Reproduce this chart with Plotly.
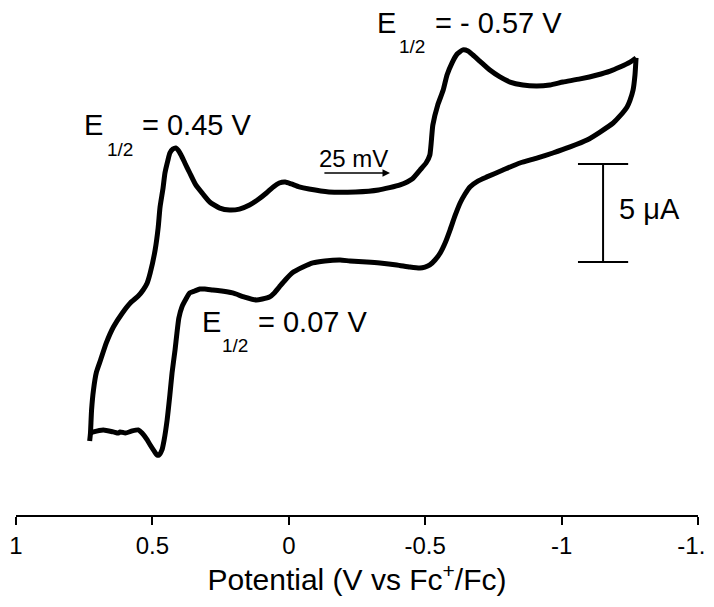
import plotly.graph_objects as go

# ---- data (potential in V vs Fc+/Fc, current in uA, arbitrary offset) ----
forward_potential = [0.730, 0.727, 0.723, 0.716, 0.705, 0.690, 0.669, 0.643, 0.610, 0.581,
                     0.552, 0.534, 0.519, 0.508, 0.490, 0.479, 0.472, 0.461, 0.454, 0.443,
                     0.436, 0.425, 0.414, 0.406, 0.395, 0.381, 0.363, 0.341, 0.315, 0.290,
                     0.253, 0.217, 0.181, 0.144, 0.115, 0.082, 0.057, 0.035, 0.013, -0.009,
                     -0.038, -0.074, -0.147, -0.245, -0.329, -0.408, -0.452, -0.481, -0.503, -0.517,
                     -0.528, -0.546, -0.566, -0.580, -0.598, -0.617, -0.638, -0.657, -0.675, -0.700,
                     -0.737, -0.774, -0.811, -0.858, -0.909, -0.957, -1.005, -1.068, -1.130, -1.178,
                     -1.214, -1.251, -1.273]
forward_current = [-7.19, -6.79, -5.61, -4.59, -3.67, -3.06, -2.19, -1.38, -0.66, -0.15,
                   0.20, 0.51, 0.87, 1.38, 2.55, 3.67, 4.74, 5.71, 6.48, 7.14,
                   7.50, 7.70, 7.76, 7.65, 7.40, 6.99, 6.48, 5.87, 5.41, 5.00,
                   4.69, 4.59, 4.64, 4.85, 5.10, 5.46, 5.77, 5.97, 6.02, 5.92,
                   5.77, 5.66, 5.51, 5.51, 5.61, 5.87, 6.17, 6.63, 6.99, 7.40,
                   8.93, 9.95, 10.71, 11.48, 12.09, 12.55, 12.76, 12.70, 12.50, 12.19,
                   11.73, 11.38, 11.12, 10.97, 10.92, 10.97, 11.12, 11.28, 11.48, 11.68,
                   11.89, 12.14, 12.35]

reverse_potential = [-1.273, -1.269, -1.262, -1.251, -1.240, -1.214, -1.189, -1.141, -1.093, -1.031,
                     -0.968, -0.909, -0.847, -0.785, -0.726, -0.693, -0.664, -0.646, -0.628, -0.609,
                     -0.591, -0.573, -0.555, -0.536, -0.517, -0.499, -0.481, -0.444, -0.396, -0.334,
                     -0.286, -0.224, -0.188, -0.132, -0.088, -0.052, -0.012, 0.013, 0.035, 0.053,
                     0.071, 0.097, 0.119, 0.162, 0.206, 0.246, 0.279, 0.308, 0.326, 0.345,
                     0.363, 0.377, 0.392, 0.403, 0.410, 0.417, 0.428, 0.436, 0.446, 0.457,
                     0.465, 0.476, 0.483, 0.494, 0.508, 0.519, 0.538, 0.552, 0.574, 0.599,
                     0.618, 0.625, 0.643, 0.680, 0.716, 0.727]
reverse_current = [12.35, 11.48, 10.71, 10.20, 9.85, 9.39, 9.03, 8.57, 8.16, 7.81,
                   7.50, 7.24, 6.99, 6.63, 6.28, 6.07, 5.77, 5.41, 4.95, 4.29,
                   3.57, 2.91, 2.40, 2.04, 1.79, 1.68, 1.63, 1.68, 1.79, 1.89,
                   1.94, 1.99, 2.04, 1.99, 1.89, 1.68, 1.38, 1.02, 0.66, 0.36,
                   0.15, 0.05, 0.00, 0.15, 0.36, 0.46, 0.51, 0.56, 0.56, 0.46,
                   0.36, 0.05, -0.36, -0.92, -1.68, -2.55, -3.72, -4.85, -6.12, -7.14,
                   -7.65, -7.91, -7.91, -7.70, -7.40, -7.14, -6.79, -6.63, -6.68, -6.79,
                   -6.73, -6.79, -6.73, -6.63, -6.73, -6.79]

tick_values = [1, 0.5, 0, -0.5, -1, -1.5]
tick_labels = ["1", "0.5", "0", "-0.5", "-1", "-1.5"]

scale_bar_potential = -1.152   # V position of the scale bar
scale_bar_bottom = 1.94        # uA
scale_bar_length = 5.0         # uA
scale_bar_cap = 0.092          # V half-width of caps

scan_arrow_start = -0.125
scan_arrow_end = -0.371
scan_arrow_current = 6.48

x_range = [1, -1.5]
y_range = [-10.969, 14.898]

# ---- layout geometry (pixels) ----
# the page adds an 8 px body margin, so the figure is 16 px smaller than the window
OFF = 8
W, H = 714 - 2 * OFF, 607 - 2 * OFF
ML, MR, MT, MB = 8, 8, 0, 84
PW = W - ML - MR
PH = H - MT - MB


def px(x):
    """reference-window pixel x -> paper fraction"""
    return (x - OFF - ML) / PW


def py(y):
    """reference-window pixel y -> paper fraction"""
    return 1 - (y - OFF - MT) / PH


FONT = "Liberation Sans, Arial, Helvetica, sans-serif"
BIG = 29
SUB = 19

fig = go.Figure()
line_style = dict(color="black", width=5, shape="spline", smoothing=0.5)
fig.add_trace(go.Scatter(x=forward_potential, y=forward_current, mode="lines",
                         line=line_style, hoverinfo="skip", showlegend=False))
fig.add_trace(go.Scatter(x=reverse_potential, y=reverse_current, mode="lines",
                         line=line_style, hoverinfo="skip", showlegend=False))

# scale bar
bar_top = scale_bar_bottom + scale_bar_length
for (x0, y0, x1, y1) in [
    (scale_bar_potential, scale_bar_bottom, scale_bar_potential, bar_top),
    (scale_bar_potential - scale_bar_cap, scale_bar_bottom, scale_bar_potential + scale_bar_cap, scale_bar_bottom),
    (scale_bar_potential - scale_bar_cap, bar_top, scale_bar_potential + scale_bar_cap, bar_top),
]:
    fig.add_shape(type="line", x0=x0, y0=y0, x1=x1, y1=y1, xref="x", yref="y",
                  line=dict(color="black", width=2))

annotations = []


def label(text, xpx, ypx, size):
    annotations.append(dict(text=text, x=px(xpx), y=py(ypx), xref="paper", yref="paper",
                            xanchor="left", yanchor="middle", showarrow=False,
                            font=dict(family=FONT, size=size, color="black")))


# E1/2 labels
label("E", 82, 125.5, BIG)
label("1/2", 105, 149, SUB)
label("= 0.45 V", 140, 125.5, BIG)

label("E", 375, 23, BIG)
label("1/2", 397, 47, SUB)
label("= - 0.57 V", 433, 23, BIG)

label("E", 200, 321.5, BIG)
label("1/2", 220, 345.5, SUB)
label("= 0.07 V", 256, 321.5, BIG)

label("5 \u03bcA", 617, 209, BIG)
label("25 mV", 317, 158.5, 24)

annotations.append(dict(x=scan_arrow_end, y=scan_arrow_current, ax=scan_arrow_start, ay=scan_arrow_current,
                        xref="x", yref="y", axref="x", ayref="y", text="", showarrow=True,
                        arrowhead=2, arrowsize=1, arrowwidth=1.5, arrowcolor="black"))

fig.update_layout(
    width=W, height=H,
    margin=dict(l=ML, r=MR, t=MT, b=MB, pad=0),
    paper_bgcolor="white", plot_bgcolor="white",
    font=dict(family=FONT, color="black"),
    annotations=annotations,
    xaxis=dict(range=x_range, tickmode="array", tickvals=tick_values, ticktext=tick_labels,
               showgrid=False, zeroline=False, showline=True, linecolor="black", linewidth=2,
               ticks="outside", ticklen=8, tickwidth=2, tickcolor="black",
               tickfont=dict(family=FONT, size=24, color="black"),
               ticklabeloverflow="allow",
               title=dict(text="Potential (V vs Fc<sup>+</sup>/Fc)",
                          font=dict(family=FONT, size=30, color="black"), standoff=6),
               automargin=False, fixedrange=True),
    yaxis=dict(range=y_range, visible=False, showgrid=False, zeroline=False, fixedrange=True),
)

fig.write_html("out.html")
